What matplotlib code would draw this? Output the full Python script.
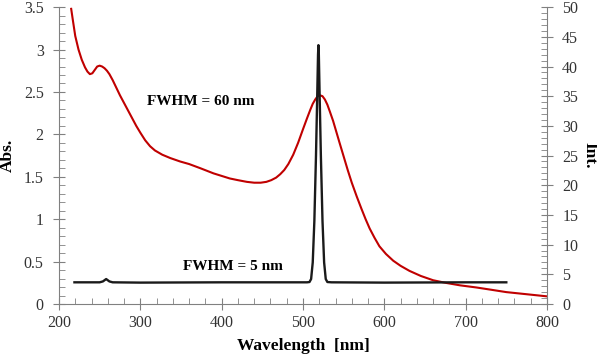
import matplotlib.pyplot as plt
from matplotlib.ticker import MultipleLocator

plt.rcParams['font.family'] = ['Liberation Serif', 'DejaVu Serif']

# absorbance (red, left axis)
abs_wl = [215, 217, 220, 224, 228, 232, 235, 238, 241, 244, 247, 250, 253, 256, 259, 262,
          266, 270, 275, 280, 285, 290, 295, 300, 306, 312, 318, 327, 337, 349, 360, 374,
          390, 410, 420, 431, 440, 448, 455, 461, 467, 472, 477, 482, 488, 494, 500, 505,
          509, 512, 515, 518, 521, 524, 527, 530, 533, 537, 541, 545, 550, 555, 560, 566,
          572, 577, 582, 588, 594, 602, 611, 620, 631, 645, 660, 675, 693, 713, 730, 750, 775, 800]
abs_val = [3.48, 3.35, 3.16, 3.00, 2.88, 2.79, 2.74, 2.71, 2.72, 2.76, 2.80, 2.81, 2.80, 2.78, 2.75, 2.71,
           2.64, 2.56, 2.46, 2.37, 2.28, 2.19, 2.10, 2.02, 1.93, 1.86, 1.81, 1.76, 1.72, 1.68, 1.65, 1.60,
           1.54, 1.48, 1.46, 1.44, 1.43, 1.43, 1.44, 1.46, 1.49, 1.53, 1.58, 1.65, 1.76, 1.90, 2.06, 2.19,
           2.29, 2.36, 2.41, 2.45, 2.46, 2.45, 2.41, 2.35, 2.27, 2.16, 2.03, 1.90, 1.74, 1.58, 1.43, 1.27,
           1.12, 1.00, 0.89, 0.78, 0.68, 0.59, 0.51, 0.45, 0.39, 0.33, 0.28, 0.25, 0.22, 0.195, 0.17, 0.14, 0.115, 0.09]

# emission (black, right axis)
int_wl = [219, 250, 254, 258, 262, 266, 300, 400, 505, 508, 510, 512, 514, 516, 517.5,
          518.5, 519, 519.5, 520.5, 522, 524, 526, 528, 530, 535, 600, 700, 750]
int_val = [3.65, 3.65, 3.8, 4.2, 3.8, 3.65, 3.6, 3.65, 3.65, 3.7, 4.2, 7, 14, 25, 35,
           42, 43.6, 42, 35, 25, 14, 7, 4.2, 3.7, 3.65, 3.6, 3.65, 3.65]

grey = '#808080'

fig = plt.figure(figsize=(5.97, 3.57), dpi=100)
ax = fig.add_axes([0.0988, 0.1485, 0.8174, 0.8315])
ax2 = ax.twinx()

ax.plot(abs_wl, abs_val, color='#C00000', lw=1.5)
ax2.plot(int_wl, int_val, color='#1a1a1a', lw=1.7)

ax.set_xlim(200, 800)
ax.set_ylim(0, 3.5)
ax2.set_ylim(0, 50)

ax.xaxis.set_major_locator(MultipleLocator(100))
ax.xaxis.set_minor_locator(MultipleLocator(20))
ax.yaxis.set_major_locator(MultipleLocator(0.5))
ax.yaxis.set_minor_locator(MultipleLocator(0.1))
ax2.yaxis.set_major_locator(MultipleLocator(5))
ax2.yaxis.set_minor_locator(MultipleLocator(1))
ax.yaxis.set_major_formatter(lambda v, p: f'{v:g}')

for a in (ax, ax2):
    a.spines['top'].set_visible(False)
    for s in a.spines.values():
        s.set_color(grey)
    a.tick_params(which='major', direction='inout', length=8, color=grey,
                  labelsize=11.5, labelcolor='#333333')
    a.tick_params(which='minor', direction='in', length=4, color=grey)
ax.tick_params(axis='y', which='major', pad=7)
ax2.tick_params(axis='y', which='major', pad=7)
ax.tick_params(axis='x', which='major', pad=4)
ax.spines['right'].set_visible(False)
ax2.spines['left'].set_visible(False)
ax2.spines['bottom'].set_visible(False)

ax.set_xlabel('Wavelength  [nm]', fontsize=12.5, fontweight='bold', labelpad=5)
ax.set_ylabel('Abs.', fontsize=12.5, fontweight='bold', labelpad=6)
ax2.set_ylabel('Int.', fontsize=12.5, fontweight='bold', rotation=-90, labelpad=14)

ax.text(308, 2.39, 'FWHM = 60 nm', fontsize=11, fontweight='bold', va='center')
ax.text(352, 0.44, 'FWHM = 5 nm', fontsize=11, fontweight='bold', va='center')

plt.savefig('out.png', dpi=100)
